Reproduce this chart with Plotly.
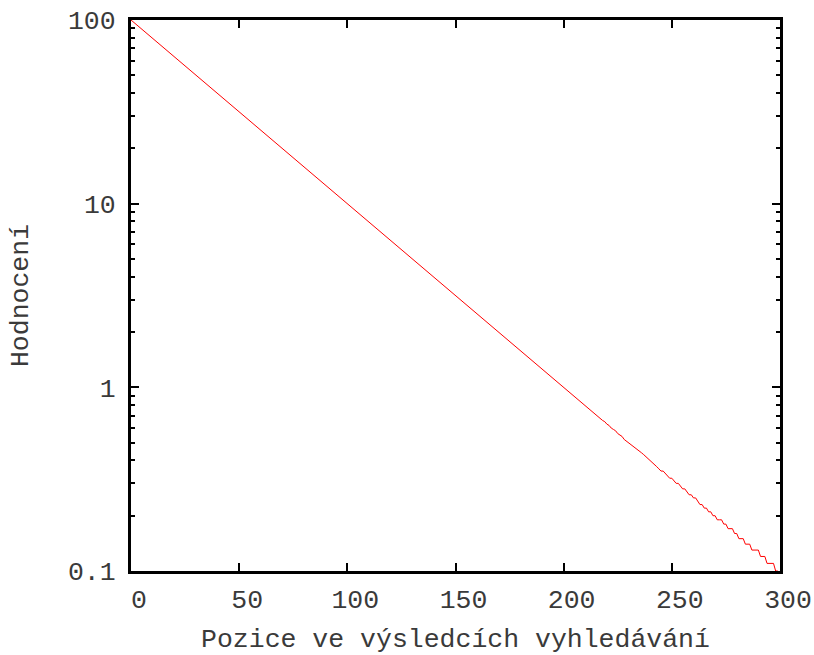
import plotly.graph_objects as go

# Smooth part (sampled every 10 positions)
pos_head = [0, 10, 20, 30, 40, 50, 60, 70, 80, 90,
            100, 110, 120, 130, 140, 150, 160, 170, 180, 190]
score_head = [100, 79.43, 63.10, 50.12, 39.81, 31.62, 25.12, 19.95, 15.85, 12.59,
              10.00, 7.94, 6.31, 5.01, 3.98, 3.16, 2.51, 2.00, 1.58, 1.26]

# Tail (every position, values rounded to 0.01 -> staircase)
pos_tail = list(range(200, 300))
score_tail = [1.00, 0.98, 0.95, 0.93, 0.91, 0.89, 0.87, 0.85, 0.83, 0.81,
              0.79, 0.78, 0.76, 0.74, 0.72, 0.71, 0.69, 0.68, 0.66, 0.65,
              0.63, 0.62, 0.60, 0.59, 0.58, 0.56, 0.55, 0.54, 0.52, 0.51,
              0.50, 0.49, 0.48, 0.47, 0.46, 0.45, 0.44, 0.43, 0.42, 0.41,
              0.40, 0.39, 0.38, 0.37, 0.36, 0.35, 0.35, 0.34, 0.33, 0.32,
              0.32, 0.31, 0.30, 0.30, 0.29, 0.28, 0.28, 0.27, 0.26, 0.26,
              0.25, 0.25, 0.24, 0.23, 0.23, 0.22, 0.22, 0.21, 0.21, 0.20,
              0.20, 0.19, 0.19, 0.19, 0.18, 0.18, 0.17, 0.17, 0.17, 0.16,
              0.16, 0.15, 0.15, 0.15, 0.14, 0.14, 0.14, 0.13, 0.13, 0.13,
              0.13, 0.12, 0.12, 0.12, 0.11, 0.11, 0.11, 0.11, 0.10, 0.10]

x_ticks = [0, 50, 100, 150, 200, 250, 300]
y_ticks = [0.1, 1, 10, 100]
y_tick_labels = ["0.1", "1", "10", "100"]
y_minor = [m * d for d in (0.1, 1, 10) for m in range(2, 10)]

FONT = "Courier New, Liberation Mono, monospace"
TXT = "#3a3a3a"
FS = 26.5

fig = go.Figure()
fig.add_trace(go.Scatter(
    x=pos_head + pos_tail, y=score_head + score_tail,
    mode="lines", line=dict(color="#ff0000", width=1),
    showlegend=False, cliponaxis=True,
))

fig.update_layout(
    width=814, height=655,
    margin=dict(l=131, r=34, t=20, b=84, autoexpand=False),
    paper_bgcolor="white", plot_bgcolor="white",
    font=dict(family=FONT, size=FS, color=TXT),
    showlegend=False,
)
fig.update_xaxes(
    range=[0, 300], tickvals=x_ticks, ticks="inside", ticklen=8, tickwidth=2,
    tickcolor="black", showline=True, linewidth=3, linecolor="black",
    mirror="ticks", showgrid=False, zeroline=False, automargin=False,
    ticklabelshift=8, ticklabelstandoff=2, ticklabeloverflow="allow",
    title=dict(text="Pozice ve výsledcích vyhledávání", standoff=17,
               font=dict(family=FONT, size=FS, color=TXT)),
)
fig.update_yaxes(
    type="log", range=[-1, 2], tickvals=y_ticks, ticktext=y_tick_labels,
    ticks="inside", ticklen=8, tickwidth=2, tickcolor="black",
    minor=dict(tickmode="array", tickvals=y_minor, ticks="inside", ticklen=4,
               tickwidth=2, tickcolor="black", showgrid=False),
    showline=True, linewidth=3, linecolor="black", mirror="ticks",
    showgrid=False, zeroline=False, automargin=False, ticklabelstandoff=7,
    ticklabeloverflow="allow",
    title=dict(text="Hodnocení", standoff=32,
               font=dict(family=FONT, size=FS, color=TXT)),
)

fig.write_html(
    "out.html",
    config={"displayModeBar": False},
    post_script="document.body.style.margin='0';document.body.style.overflow='hidden';",
)
